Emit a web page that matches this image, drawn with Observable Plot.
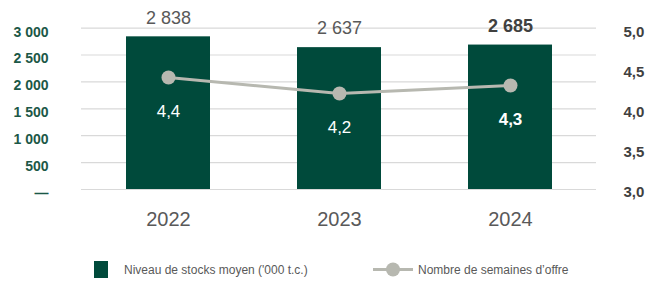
<!DOCTYPE html>
<html>
<head>
<meta charset="utf-8">
<script src="https://cdn.jsdelivr.net/npm/d3@7"></script>
<script src="https://cdn.jsdelivr.net/npm/@observablehq/plot@0.6"></script>
<style>
  body { margin: 0; background: #fff; font-family: "Liberation Sans", Arial, sans-serif; }
  #wrap { position: relative; width: 658px; height: 282px; }
  #legend { position: absolute; left: 0; top: 261px; width: 658px; height: 18px; font-size: 12px; color: #595959; }
  .sw { position: absolute; top: 0; width: 14px; height: 17px; background: #004a3b; }
  .lt { position: absolute; top: 2px; white-space: nowrap; }
  .ln { position: absolute; top: 0; width: 40px; height: 17px; }
</style>
</head>
<body>
<div id="wrap">
  <div id="chart"></div>
  <div id="legend">
    <div class="sw" style="left:94px"></div>
    <div class="lt" style="left:124px">Niveau de stocks moyen ('000 t.c.)</div>
    <svg class="ln" style="left:373px" viewBox="0 0 40 17"><line x1="0" y1="8.5" x2="40" y2="8.5" stroke="#b7b8b0" stroke-width="3"/><circle cx="20" cy="8.5" r="7" fill="#b7b8b0"/></svg>
    <div class="lt" style="left:418px">Nombre de semaines d’offre</div>
  </div>
</div>
<script>
const years = ["2022", "2023", "2024"];
const stocks = [2838, 2637, 2685];
const weeks = [4.4, 4.2, 4.3];
const leftTicks = [0, 500, 1000, 1500, 2000, 2500, 3000];
const rightTicks = [3.0, 3.5, 4.0, 4.5, 5.0];

// right axis (3.0–5.0) expressed in left-axis units
const rMin = 3, rMax = 5, rTop = 2974;
const toLeft = v => (v - rMin) / (rMax - rMin) * rTop;
const fromLeft = y => rMin + y / rTop * (rMax - rMin);

const data = years.map((y, i) => ({year: y, stock: stocks[i], weeks: weeks[i], wy: toLeft(weeks[i])}));
const fmtThousands = d => d === 0 ? "—" : d3.format(",")(d).replace(/,/g, " ");
const fmtDec = d => d.toFixed(1).replace(".", ",");

const green = "#004a3b";
const gray = "#b7b8b0";

const chart = Plot.plot({
  width: 658,
  height: 245,
  marginLeft: 81,
  marginRight: 62,
  marginTop: 26,
  marginBottom: 56,
  style: {fontFamily: "Liberation Sans, Arial, sans-serif", background: "#fff"},
  x: {domain: years, paddingInner: 0.51, paddingOuter: 0.255, axis: null},
  y: {domain: [0, 3030], axis: null},
  marks: [
    Plot.ruleY(leftTicks, {stroke: "#d9d9d9", strokeWidth: 1.2}),
    Plot.barY(data, {x: "year", y: "stock", fill: green}),
    Plot.line(data, {x: "year", y: "wy", stroke: gray, strokeWidth: 3}),
    Plot.dot(data, {x: "year", y: "wy", r: 7, fill: gray, stroke: null}),
    // point labels inside bars
    Plot.text(data.filter(d => d.year !== "2024"), {x: "year", y: "wy", text: d => fmtDec(d.weeks), dy: 34, fill: "#fff", fontSize: 17}),
    Plot.text(data.filter(d => d.year === "2024"), {x: "year", y: "wy", text: d => fmtDec(d.weeks), dy: 34, fill: "#fff", fontSize: 17, fontWeight: "bold"}),
    // bar value labels
    Plot.text(data.filter(d => d.year !== "2024"), {x: "year", y: "stock", text: d => fmtThousands(d.stock), dy: -19, fill: "#595959", fontSize: 18}),
    Plot.text(data.filter(d => d.year === "2024"), {x: "year", y: "stock", text: d => fmtThousands(d.stock), dy: -19, fill: "#404040", fontSize: 18, fontWeight: "bold"}),
    // x axis labels
    Plot.axisX(years, {anchor: "bottom", label: null, tickSize: 0, tickPadding: 22, fontSize: 20, color: "#595959"}),
    // left axis
    Plot.axisY(leftTicks, {anchor: "left", label: null, tickSize: 0, tickPadding: 33, tickFormat: fmtThousands, fontSize: 14, fontWeight: "bold", color: "#1c5847", dy: 4}),
    // right axis
    Plot.axisY(rightTicks.map(toLeft), {anchor: "right", label: null, tickSize: 0, tickPadding: 27, tickFormat: d => fmtDec(fromLeft(d)), fontSize: 15, fontWeight: "bold", color: "#404040", textAnchor: "start", dy: 3})
  ]
});
document.getElementById("chart").appendChild(chart);
</script>
</body>
</html>
